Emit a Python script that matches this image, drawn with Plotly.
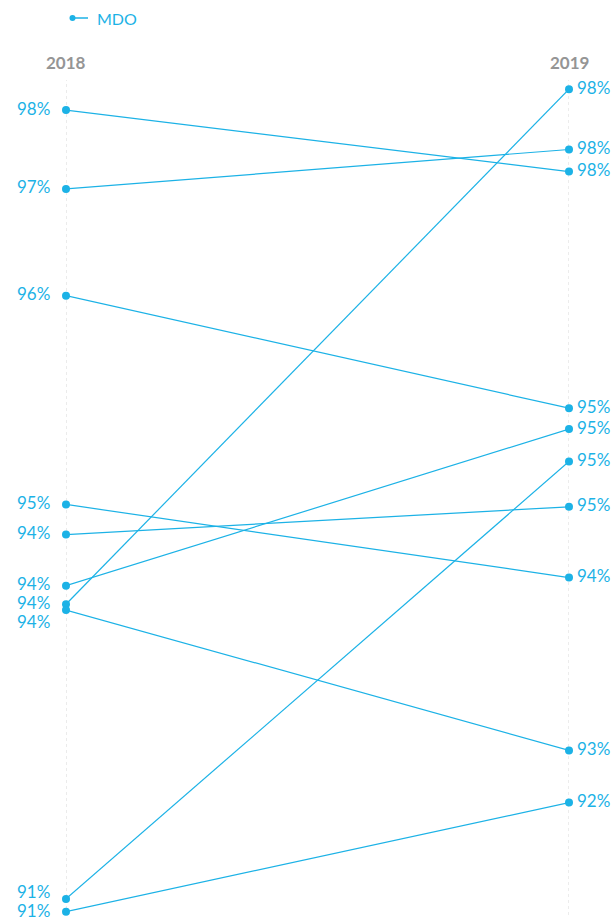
import plotly.graph_objects as go

years = ["2018", "2019"]
series_name = "MDO"
values_2018 = [98.06, 97.38, 96.46, 94.66, 94.40, 93.96, 93.80, 93.75, 91.26, 91.15]
values_2019 = [97.53, 97.72, 95.49, 94.03, 94.64, 95.31, 98.24, 92.54, 95.03, 92.09]

COLOR = "#1cb2e6"
FONT = "Lato"
W, H = 613, 920
M = dict(l=66, r=44, t=80, b=5)
Y_RANGE = [91.121, 98.319]
plot_w = W - M["l"] - M["r"]
plot_h = H - M["t"] - M["b"]
px_per_unit = plot_h / (Y_RANGE[1] - Y_RANGE[0])


def px_to_paper(px, py):
    return (px - M["l"]) / plot_w, 1 - (py - M["t"]) / plot_h


def val_to_py(v):
    return M["t"] + (Y_RANGE[1] - v) * px_per_unit


def dodge(vals, min_gap=19, lift=2, max_py=910):
    """Pixel y-shifts for labels: push overlapping labels down, keep above max_py."""
    order = sorted(range(len(vals)), key=lambda i: -vals[i])
    pos = {i: val_to_py(vals[i]) - lift for i in order}
    for a, b in zip(order, order[1:]):
        if pos[b] - pos[a] < min_gap:
            pos[b] = pos[a] + min_gap
    last = order[-1]
    if pos[last] > max_py:
        pos[last] = max_py
        for a, b in zip(order[::-1], order[::-1][1:]):
            if pos[a] - pos[b] < min_gap:
                pos[b] = pos[a] - min_gap
    return {i: val_to_py(vals[i]) - pos[i] for i in order}


fig = go.Figure()
for i, (a, b) in enumerate(zip(values_2018, values_2019)):
    fig.add_trace(go.Scatter(
        x=[0, 1], y=[a, b], mode="lines+markers",
        line=dict(color=COLOR, width=1.2),
        marker=dict(color=COLOR, size=8),
        name=series_name, showlegend=False,
        cliponaxis=False, hoverinfo="skip",
    ))

shift18 = dodge(values_2018)
shift19 = dodge(values_2019)
for i, v in enumerate(values_2018):
    fig.add_annotation(x=0, y=v, text=f"{round(v)}%", showarrow=False,
                       xanchor="right", xshift=-14, yshift=shift18[i],
                       font=dict(family=FONT, size=17, color=COLOR))
for i, v in enumerate(values_2019):
    fig.add_annotation(x=1, y=v, text=f"{round(v)}%", showarrow=False,
                       xanchor="left", xshift=6, yshift=shift19[i],
                       font=dict(family=FONT, size=17, color=COLOR))

for xi, yr in enumerate(years):
    fig.add_annotation(x=xi, y=1, yref="paper", text=f"<b>{yr}</b>", showarrow=False,
                       yanchor="bottom", yshift=5,
                       font=dict(family=FONT, size=17, color="#959595"))
    fig.add_shape(type="line", x0=xi, x1=xi, y0=0, y1=1.0, yref="paper",
                  line=dict(color="#d8d8d8", width=1, dash="dot"), layer="below")

# legend key: dot at the left end of a short line, then the series name
lx0, ly = px_to_paper(74, 18)
lx1, _ = px_to_paper(88, 18)
cx0, cy0 = px_to_paper(69.5, 15)
cx1, cy1 = px_to_paper(75.5, 21)
fig.add_shape(type="line", xref="paper", yref="paper", x0=lx0, x1=lx1, y0=ly, y1=ly,
              line=dict(color=COLOR, width=1.5))
fig.add_shape(type="circle", xref="paper", yref="paper", x0=cx0, x1=cx1, y0=cy1, y1=cy0,
              fillcolor=COLOR, line=dict(color=COLOR, width=0))
tx, _ = px_to_paper(95, 18)
fig.add_annotation(x=tx, y=ly, xref="paper", yref="paper", text=series_name,
                   showarrow=False, xanchor="left", yanchor="middle",
                   font=dict(family=FONT, size=16, color=COLOR))

fig.update_layout(
    width=W, height=H, margin=M,
    paper_bgcolor="white", plot_bgcolor="white",
    xaxis=dict(range=[0, 1], visible=False, fixedrange=True),
    yaxis=dict(range=Y_RANGE, visible=False, fixedrange=True),
    showlegend=False,
)

fig.write_html(
    "out.html",
    config={"displayModeBar": False, "staticPlot": True},
    post_script="document.body.style.margin='0';document.body.style.overflow='hidden';",
)
